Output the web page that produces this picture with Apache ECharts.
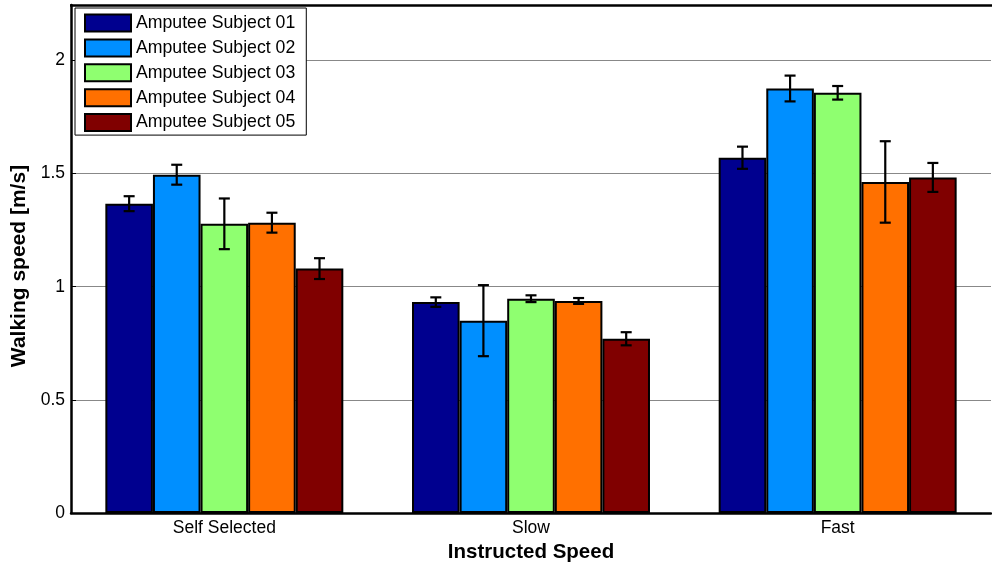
<!DOCTYPE html>
<html>
<head>
<meta charset="utf-8">
<script src="https://cdn.jsdelivr.net/npm/echarts@6/dist/echarts.min.js"></script>
<style>
  html, body { margin: 0; padding: 0; background: #fff; }
  #chart { width: 992px; height: 567px; }
</style>
</head>
<body>
<div id="chart"></div>
<script>
// Instructed walking speed conditions
const categories = ['Self Selected', 'Slow', 'Fast'];
const subjects = ['Amputee Subject 01', 'Amputee Subject 02', 'Amputee Subject 03', 'Amputee Subject 04', 'Amputee Subject 05'];

// Mean walking speed [m/s] per subject, per condition
const subject01 = [1.367, 0.932, 1.570];
const subject02 = [1.495, 0.850, 1.876];
const subject03 = [1.278, 0.947, 1.857];
const subject04 = [1.283, 0.937, 1.463];
const subject05 = [1.080, 0.770, 1.483];

// Standard deviation [m/s] per subject, per condition
const sd01 = [0.033, 0.021, 0.049];
const sd02 = [0.044, 0.157, 0.057];
const sd03 = [0.112, 0.015, 0.030];
const sd04 = [0.044, 0.013, 0.180];
const sd05 = [0.046, 0.029, 0.064];

const yTicks = [0, 0.5, 1, 1.5, 2];

const means = [subject01, subject02, subject03, subject04, subject05];
const sds = [sd01, sd02, sd03, sd04, sd05];
const colors = ['#00008F', '#008FFF', '#8FFF70', '#FF7000', '#800000'];

const CATEGORY_GAP = 0.224;
const nSeries = subjects.length;
const FONT = 'Liberation Sans, Arial, sans-serif';

const barSeries = subjects.map((name, i) => ({
  name: name,
  type: 'bar',
  data: means[i],
  barGap: '0%',
  barCategoryGap: (CATEGORY_GAP * 100) + '%',
  itemStyle: { color: colors[i], borderColor: '#000', borderWidth: 2 },
  emphasis: { disabled: true },
  z: 2
}));

// Error bar data: [category index, low, high, subject index]
const errData = [];
means.forEach((m, s) => {
  m.forEach((v, c) => {
    errData.push([c, v - sds[s][c], v + sds[s][c], s]);
  });
});

const errorSeries = {
  type: 'custom',
  name: 'error',
  data: errData,
  encode: { x: 0, y: [1, 2] },
  z: 5,
  silent: true,
  renderItem: function (params, api) {
    const c = api.value(0);
    const s = api.value(3);
    const band = api.size([1, 0])[0];
    const barW = band * (1 - CATEGORY_GAP) / nSeries;
    const center = api.coord([c, 0])[0] + (s - (nSeries - 1) / 2) * barW;
    const lo = api.coord([c, api.value(1)])[1];
    const hi = api.coord([c, api.value(2)])[1];
    const cap = 5.5;
    const style = { stroke: '#000', lineWidth: 2.2, fill: null };
    return {
      type: 'group',
      children: [
        { type: 'line', shape: { x1: center, y1: lo, x2: center, y2: hi }, style: style },
        { type: 'line', shape: { x1: center - cap, y1: hi, x2: center + cap, y2: hi }, style: style },
        { type: 'line', shape: { x1: center - cap, y1: lo, x2: center + cap, y2: lo }, style: style }
      ]
    };
  }
};

const chart = echarts.init(document.getElementById('chart'), null, { renderer: 'canvas' });
chart.setOption({
  animation: false,
  backgroundColor: '#fff',
  textStyle: { fontFamily: FONT },
  grid: { left: 71, right: 1, top: 5, bottom: 54, containLabel: false, outerBoundsMode: 'none' },
  legend: {
    data: subjects,
    orient: 'vertical',
    left: 75,
    top: 8,
    icon: 'rect',
    itemWidth: 46,
    itemHeight: 17,
    itemGap: 5.9,
    padding: [5.5, 11, 3, 9],
    backgroundColor: '#fff',
    borderColor: '#000',
    borderWidth: 1,
    itemStyle: { borderColor: '#000', borderWidth: 2 },
    textStyle: { fontSize: 17.7, lineHeight: 17, color: '#000', fontFamily: FONT },
    selectedMode: false,
    z: 10
  },
  xAxis: {
    type: 'category',
    data: categories,
    name: 'Instructed Speed',
    nameLocation: 'middle',
    nameGap: 28,
    nameTextStyle: { fontSize: 20.5, fontWeight: 'bold', color: '#000', fontFamily: FONT },
    axisLine: { show: true, lineStyle: { color: '#000', width: 2.5 } },
    axisTick: { show: true, alignWithLabel: true, inside: true, length: 4, lineStyle: { color: '#000' } },
    axisLabel: { fontSize: 17.5, color: '#000', margin: 6, fontFamily: FONT },
    splitLine: { show: false }
  },
  yAxis: {
    type: 'value',
    min: yTicks[0],
    max: 2.245,
    interval: 0.5,
    name: 'Walking speed [m/s]',
    nameLocation: 'middle',
    nameGap: 37,
    nameTextStyle: { fontSize: 21, fontWeight: 'bold', color: '#000', fontFamily: FONT, padding: [0, 14, 0, 0] },
    axisLine: { show: true, lineStyle: { color: '#000', width: 2.5 } },
    axisTick: { show: true, inside: true, length: 5, lineStyle: { color: '#000' } },
    axisLabel: {
      fontSize: 17.5,
      color: '#000',
      margin: 6,
      showMaxLabel: false,
      fontFamily: FONT,
      formatter: function (v) { return yTicks.indexOf(v) >= 0 ? String(v) : ''; }
    },
    splitLine: { show: true, lineStyle: { color: '#888', width: 1 } }
  },
  series: barSeries.concat([errorSeries]),
  graphic: [
    // top frame line of the plot box
    { type: 'line', shape: { x1: 70, y1: 5.5, x2: 992, y2: 5.5 }, style: { stroke: '#000', lineWidth: 2.5 }, z: 20 }
  ]
});
</script>
</body>
</html>
